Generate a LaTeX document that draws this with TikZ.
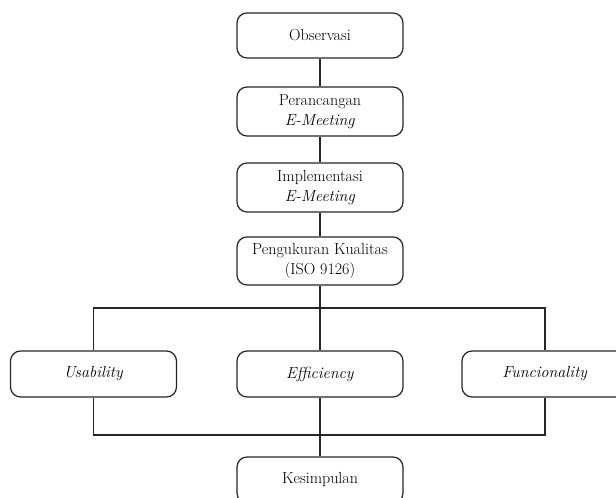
\documentclass[tikz,border=0pt]{standalone}
\usepackage{tikz}

\begin{document}
\begin{tikzpicture}[x=1pt,y=-1pt,line width=1.2pt,draw=black!85,
                    font=\fontsize{16}{20}\selectfont]

  \tikzstyle{every node}=[rectangle,rounded corners=10pt,draw,align=center,
                          minimum width=166pt,inner sep=2pt]

  \useasboundingbox (0,0) rectangle (616,498);
  \clip (0,0) rectangle (616,498);

  \node[minimum height=45pt] (OB) at (320,35.5)  {Observasi};
  \node[minimum height=49pt] (PR) at (320,111.5) {Perancangan\\\textit{E-Meeting}};
  \node[minimum height=49pt] (IM) at (320,187.5) {Implementasi\\\textit{E-Meeting}};
  \node[minimum height=48pt] (PK) at (320,261)   {Pengukuran Kualitas\\(ISO 9126)};

  \node[minimum height=46pt] (US) at (93.5,374)  {\textit{Usability}};
  \node[minimum height=46pt] (EF) at (320,374)   {\textit{Efficiency}};
  \node[minimum height=46pt] (FU) at (545,374)   {\textit{Funcionality}};

  \node[minimum height=46pt] (KS) at (320,480)   {Kesimpulan};

  \coordinate (up)  at (320,308);
  \coordinate (low) at (320,435);

  \draw (OB) -- (PR);
  \draw (PR) -- (IM);
  \draw (IM) -- (PK);
  \draw (PK) -- (EF);
  \draw (US.north) |- (up) -| (FU.north);
  \draw (US.south) |- (low) -| (FU.south);
  \draw (EF) -- (KS);
\end{tikzpicture}
\end{document}
